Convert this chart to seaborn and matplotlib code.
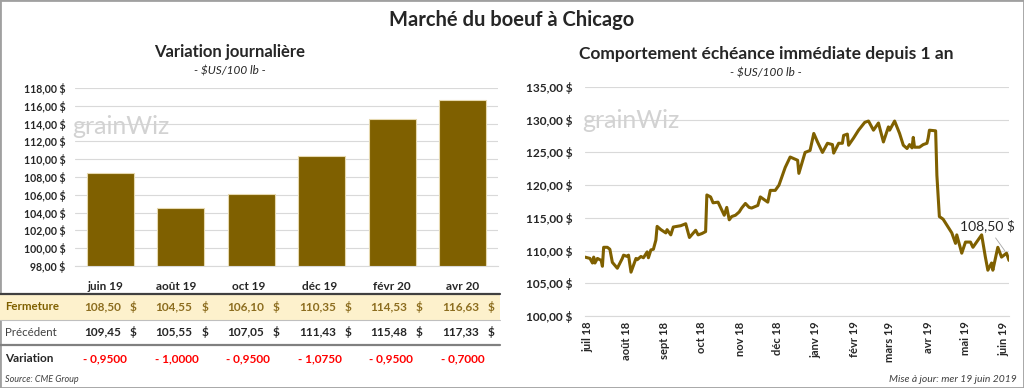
import seaborn as sns
import matplotlib.pyplot as plt
from matplotlib.patches import Rectangle
from matplotlib.lines import Line2D
import pandas as pd

# --- Data ---
contracts = ["juin 19", "août 19", "oct 19", "déc 19", "févr 20", "avr 20"]
fermeture = [108.50, 104.55, 106.10, 110.35, 114.53, 116.63]
precedent = [109.45, 105.55, 107.05, 111.43, 115.48, 117.33]
variation = [-0.9500, -1.0000, -0.9500, -1.0750, -0.9500, -0.7000]

# nearby contract (days counted from 1 July 2018)
days = [-2, 2, 4, 5, 6, 8, 11, 12, 13, 16, 18, 20, 24, 28, 29, 32, 33, 35, 39, 40,
        43, 45, 48, 49, 51, 53, 55, 56, 59, 63, 64, 67, 69, 75, 79, 82, 87, 89, 92, 95,
        96, 99, 101, 105, 110, 112, 114, 116, 119, 122, 124, 127, 130, 132, 137, 139, 145, 147, 151, 154,
        159, 163, 169, 170, 175, 179, 182, 185, 189, 193, 197, 198, 202, 205, 206, 209, 210, 214, 218, 223,
        226, 230, 234, 238, 242, 243, 247, 251, 254, 257, 259, 261, 262, 263, 267, 270, 273, 274, 275, 280,
        281, 283, 286, 289, 293, 296, 297, 301, 304, 308, 310, 317, 320, 322, 325, 326, 330, 333, 337, 339]
prices = [109.0, 108.8, 108.1, 109.0, 108.1, 108.8, 108.5, 107.6, 110.5, 110.5, 110.2, 108.2, 107.3, 108.8, 109.3, 109.1, 109.3, 106.7, 108.8, 108.6,
          109.1, 108.9, 109.8, 108.9, 110.1, 110.2, 111.6, 113.7, 113.2, 112.7, 113.2, 112.4, 113.6, 113.8, 114.1, 112.0, 113.1, 112.4, 112.6, 112.9,
          118.5, 118.2, 117.3, 117.4, 115.4, 116.6, 114.7, 115.2, 115.4, 115.9, 116.5, 117.2, 116.6, 116.5, 116.9, 118.2, 117.4, 119.2, 119.2, 120.0,
          122.7, 124.3, 123.8, 121.8, 125.0, 125.3, 127.9, 126.6, 125.0, 126.4, 126.2, 124.9, 126.4, 126.4, 127.6, 127.8, 126.1, 127.2, 128.4, 129.6,
          129.8, 128.4, 129.5, 126.6, 128.9, 128.4, 129.8, 127.9, 126.1, 125.6, 126.2, 125.7, 127.3, 125.8, 125.8, 126.2, 126.4, 127.2, 128.4, 128.3,
          121.5, 115.2, 114.8, 113.9, 112.7, 111.1, 112.4, 109.6, 111.3, 111.3, 110.5, 112.4, 109.0, 107.0, 108.1, 107.0, 110.5, 109.0, 109.6, 108.5]
month_labels = ["juil 18", "août 18", "sept 18", "oct 18", "nov 18", "déc 18",
                "janv 19", "févr 19", "mars 19", "avr 19", "mai 19", "juin 19"]

dates = pd.Timestamp("2018-07-01") + pd.to_timedelta(days, unit="D")
df_bar = pd.DataFrame({"contrat": contracts, "fermeture": fermeture})
df_line = pd.DataFrame({"date": dates, "prix": prices})

BROWN = "#7F6000"
GRID = "#D9D9D9"

sns.set_style("white")
plt.rcParams["font.family"] = ["Lato", "DejaVu Sans"]

W, H = 1024, 388
fig = plt.figure(figsize=(W / 100, H / 100), dpi=100)


def fx(x):
    return x / W


def fy(y):
    return 1 - y / H


def fmt(v, dec=2):
    return f"{v:.{dec}f}".replace(".", ",")


# frame
fig.patches.append(Rectangle((0, 0), 1, 1, transform=fig.transFigure, fill=False,
                             edgecolor="#A0A0A0", linewidth=2))

fig.text(0.5, fy(20), "Marché du boeuf à Chicago", ha="center", va="center",
         fontsize=14.5, fontweight="bold")

# --- Left: bar chart ---
ax1 = fig.add_axes([fx(75), fy(266), fx(498 - 75), fy(88) - fy(266)])
sns.barplot(data=df_bar, x="contrat", y="fermeture", ax=ax1, color=BROWN,
            saturation=1, width=0.66, edgecolor="#E6D9B0", linewidth=0.8)
ax1.set_ylim(98, 118)
yt = list(range(98, 119, 2))
ax1.set_yticks(yt, labels=[f"{fmt(v)} $" for v in yt], fontweight="bold", fontsize=7.6)
ax1.set_xticks([])
ax1.set_xlabel("")
ax1.set_ylabel("")
ax1.tick_params(axis="y", length=0, pad=7)
ax1.grid(axis="y", color=GRID, linewidth=0.8)
ax1.set_axisbelow(True)
sns.despine(ax=ax1, left=True)
ax1.spines["bottom"].set_color(GRID)

fig.text(fx(230), fy(52), "Variation journalière", ha="center", va="center",
         fontsize=12, fontweight="bold")
fig.text(fx(230), fy(71), "- $US/100 lb -", ha="center", va="center",
         fontsize=8.5, style="italic")
fig.text(fx(72), fy(126), "grainWiz", ha="left", va="center", fontsize=18, color="#D2D2D2")

# --- Left: table ---
col_x = [105 + 71.6 * i for i in range(len(contracts))]
fig.patches.append(Rectangle((0, fy(320)), fx(500), fy(294) - fy(320), transform=fig.transFigure,
                             facecolor="#FDF1CC", edgecolor="none"))
fig.lines.append(Line2D([0, fx(500)], [fy(294), fy(294)], transform=fig.transFigure,
                        color="#404040", linewidth=1.6))
fig.lines.append(Line2D([0, fx(500)], [fy(320), fy(320)], transform=fig.transFigure,
                        color="#BFBFBF", linewidth=0.8))
fig.lines.append(Line2D([0, fx(500)], [fy(345), fy(345)], transform=fig.transFigure,
                        color="#808080", linewidth=1.6))

fig.text(fx(5), fy(307), "Fermeture", ha="left", va="center", fontsize=8.3, color=BROWN, fontweight="bold")
fig.text(fx(5), fy(332), "Précédent", ha="left", va="center", fontsize=8.3, color="#404040")
fig.text(fx(5), fy(359), "Variation", ha="left", va="center", fontsize=8.5, fontweight="bold")

for i, c in enumerate(contracts):
    cx = col_x[i]
    fig.text(fx(cx), fy(287), c, ha="center", va="center", fontsize=8.5, fontweight="bold")
    fig.text(fx(cx + 16), fy(307), fmt(fermeture[i]), ha="right", va="center", fontsize=8.5,
             fontweight="bold", color="#8C6D1F")
    fig.text(fx(cx + 28), fy(307), "$", ha="center", va="center", fontsize=8.5,
             fontweight="bold", color="#8C6D1F")
    fig.text(fx(cx + 16), fy(332), fmt(precedent[i]), ha="right", va="center", fontsize=8.5,
             fontweight="bold")
    fig.text(fx(cx + 28), fy(332), "$", ha="center", va="center", fontsize=8.5, fontweight="bold")
    fig.text(fx(cx), fy(359), "- " + fmt(abs(variation[i]), 4), ha="center", va="center",
             fontsize=8.5, fontweight="bold", color="#FF0000")

fig.text(fx(5), fy(380), "Source: CME Group", ha="left", va="center", fontsize=6.5,
         style="italic", color="#404040")

# --- Right: line chart ---
ax2 = fig.add_axes([fx(585), fy(316), fx(1009 - 585), fy(87) - fy(316)])
sns.lineplot(data=df_line, x="date", y="prix", ax=ax2, color=BROWN, linewidth=2.2)
ax2.set_ylim(100, 135)
yt2 = list(range(100, 136, 5))
ax2.set_yticks(yt2, labels=[f"{fmt(v)} $" for v in yt2], fontweight="bold", fontsize=8.6)
ticks = pd.date_range("2018-07-01", "2019-06-01", freq="MS")
ax2.set_xticks(ticks, labels=month_labels, rotation=90, fontweight="bold", fontsize=8)
ax2.set_xlim(dates[0], dates[-1])
ax2.set_xlabel("")
ax2.set_ylabel("")
ax2.tick_params(axis="y", length=0, pad=9)
ax2.tick_params(axis="x", length=0, pad=4)
ax2.grid(axis="y", color=GRID, linewidth=0.8)
ax2.set_axisbelow(True)
sns.despine(ax=ax2, left=True)
ax2.spines["bottom"].set_color(GRID)

ax2.annotate(f"{fmt(prices[-1])} $", xy=(dates[-2], prices[-2]), xytext=(-14, 15),
             textcoords="offset points", ha="center", va="bottom", fontsize=10,
             arrowprops=dict(arrowstyle="-", color="#A6A6A6", lw=0.6))

fig.text(fx(766), fy(54), "Comportement échéance immédiate depuis 1 an", ha="center", va="center",
         fontsize=12.5, fontweight="bold")
fig.text(fx(766), fy(73), "- $US/100 lb -", ha="center", va="center", fontsize=8.5, style="italic")
fig.text(fx(582), fy(120), "grainWiz", ha="left", va="center", fontsize=18, color="#D2D2D2")
fig.text(fx(1017), fy(379), "Mise à jour: mer 19 juin 2019", ha="right", va="center",
         fontsize=7.5, style="italic", color="#404040")

fig.savefig("out.png", dpi=100)
plt.close(fig)
